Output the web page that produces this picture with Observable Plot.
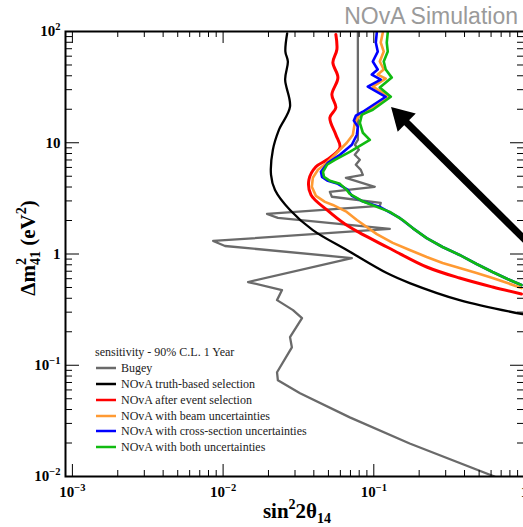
<!DOCTYPE html>
<html><head><meta charset="utf-8">
<script src="https://cdn.jsdelivr.net/npm/d3@7"></script>
<script src="https://cdn.jsdelivr.net/npm/@observablehq/plot@0.6"></script>
<style>
html,body{margin:0;padding:0;overflow:hidden;background:#fff;width:523px;height:527px;}
#chart{position:relative;width:523px;height:527px;overflow:hidden;}
#chart svg{display:block;max-width:none !important;width:545px !important;height:527px !important;}
</style></head><body><div id="chart"></div>
<script>
// ---- data (sin^2 2theta_14 , delta m^2_41 in eV^2) ----
const bugeySin = [0.0784,0.0784,0.0748,0.0796,0.0748,0.0808,0.0760,0.0820,0.0846,0.0653,0.1015,0.0511,0.0527,0.1112,0.1096,0.01956,0.0231,0.1277,0.00859,0.0103,0.0715,0.01464,0.0246,0.0228,0.0291,0.0334,0.0278,0.0286,0.0228,0.0231,0.0324,0.0693,0.173,0.632];
const bugeyDm  = [100,10.6,9.59,8.65,7.80,7.03,6.34,5.71,5.15,4.84,4.02,3.62,3.27,2.88,2.71,2.29,2.11,1.68,1.31,1.18,0.920,0.560,0.474,0.385,0.313,0.265,0.179,0.145,0.0865,0.0733,0.0560,0.0340,0.0198,0.0100];

const truthSin = [0.0266,0.0259,0.0269,0.0258,0.0278,0.0235,0.0214,0.0208,0.0221,0.0278,0.0394,0.0662,0.122,0.173,0.371,0.970];
const truthDm  = [96,66,53.7,37,21.1,13.1,8.65,5.15,3.77,2.49,1.64,1.087,0.674,0.548,0.385,0.288];

const selSin = [0.0560,0.0569,0.0535,0.0578,0.0527,0.0560,0.0511,0.0560,0.0596,0.0489,0.0413,0.0371,0.0383,0.0489,0.0643,0.0808,0.1336,0.2244,0.371,0.614,0.955];
const selDm  = [94,68.9,52.6,38.5,27.1,20.7,16.8,11.8,9.02,7.03,6.08,4.64,3.40,2.49,1.86,1.55,1.087,0.764,0.608,0.505,0.437];

const beamSin = [0.1148,0.1112,0.1164,0.1096,0.1164,0.1062,0.1200,0.0985,0.1277,0.0941,0.0784,0.0748,0.0726,0.0662,0.0569,0.0489,0.0426,0.0394,0.0388,0.0413,0.0474,0.0535,0.0662,0.0772,0.1047,0.1336,0.173,0.2244,0.286,0.371,0.481,0.614,0.771,0.955];
const beamDm  = [98,79.6,66.0,53.7,45.5,41.0,37.7,32.0,25.9,19.8,16.8,15.1,11.8,10.0,8.13,6.61,5.71,4.84,4.02,3.33,2.94,2.76,2.39,2.02,1.51,1.26,1.087,0.940,0.830,0.748,0.674,0.608,0.548,0.494];

const xsecSin = [0.1047,0.1031,0.1062,0.0985,0.1062,0.0970,0.1112,0.0912,0.1200,0.0846,0.0760,0.0737,0.0784,0.0772,0.0715,0.0596,0.0496,0.0446,0.0453,0.0496,0.0578,0.0673,0.0715,0.0833,0.1096,0.1486,0.1811,0.2244,0.286,0.371,0.481,0.614,0.771,0.955];
const xsecDm  = [98,79.6,66.0,53.7,45.5,41.0,37.0,32.0,25.9,19.0,17.5,15.8,13.9,11.8,9.59,7.80,6.61,5.48,4.94,4.55,4.27,3.77,3.33,3.00,2.65,2.11,1.71,1.39,1.156,0.980,0.813,0.689,0.596,0.526];

const bothSin = [0.1238,0.1219,0.1238,0.1164,0.1200,0.1316,0.1096,0.1297,0.0985,0.0833,0.0808,0.0846,0.0941,0.0693,0.0552,0.0489,0.0460,0.0467,0.0511,0.0596,0.0662,0.0693,0.0833,0.1277,0.1556,0.1811,0.2244,0.286,0.371,0.481,0.614,0.771,0.955];
const bothDm  = [98,79.6,66.0,53.7,45.5,38.5,31.3,25.9,19.8,17.9,15.1,12.3,10.6,8.29,7.03,6.34,5.48,4.94,4.55,4.27,3.77,3.47,3.00,2.39,2.02,1.71,1.39,1.156,0.980,0.813,0.689,0.596,0.526];

const xMajor = [0.001, 0.01, 0.1, 1];
const xLabels = ["10^\u22123", "10^\u22122", "10^\u22121", "1"];
const yMajor = [0.01, 0.1, 1, 10, 100];
const yLabels = ["10^\u22122", "10^\u22121", "1", "10", "10^2"];
const legendTitle = "sensitivity - 90% C.L. 1 Year";
const arrowFrom = [1.38, 0.879];   // tail (off the right edge)
const arrowTo = [0.1527, 16.9];    // arrow head centre

const series = [
  {name:"Bugey", sin:bugeySin, dm:bugeyDm, color:"#6a6a6a", w:2.3, curve:"linear"},
  {name:"NOvA truth-based selection", sin:truthSin, dm:truthDm, color:"#000000", w:2.3, curve:"catmull-rom"},
  {name:"NOvA after event selection", sin:selSin, dm:selDm, color:"#ff0000", w:3, curve:"catmull-rom"},
  {name:"NOvA with beam uncertainties", sin:beamSin, dm:beamDm, color:"#ff9a33", w:2.6, curve:"linear"},
  {name:"NOvA with cross-section uncertainties", sin:xsecSin, dm:xsecDm, color:"#0000ff", w:2.6, curve:"linear"},
  {name:"NOvA with both uncertainties", sin:bothSin, dm:bothDm, color:"#11bb11", w:2.6, curve:"linear"}
];

// ---- layout ----
const W = 545, H = 527, mL = 65, mR = 21, mT = 31, mB = 51;
const fw = W - mL - mR, fh = H - mT - mB;
const decX = [0.001, 0.01, 0.1], decY = [0.01, 0.1, 1, 10];
const mult = [2,3,4,5,6,7,8,9];
const xMinor = decX.flatMap(d => mult.map(k => k * d));
const yMinor = decY.flatMap(d => mult.map(k => k * d));
const serif = "Liberation Serif, Times New Roman, serif";

const lineMarks = series.map(s => Plot.line(s.sin.map((x, i) => ({x, y: s.dm[i]})),
  {x: "x", y: "y", stroke: s.color, strokeWidth: s.w, curve: s.curve, clip: true, strokeLinejoin: "round"}));

const plot = Plot.plot({
  width: W, height: H,
  marginLeft: mL, marginRight: mR, marginTop: mT, marginBottom: mB,
  x: {type: "log", domain: [0.0009, 1]},
  y: {type: "log", domain: [0.01, 100]},
  style: {background: "#fff", fontFamily: serif, maxWidth: "none"},
  marks: [
    ...lineMarks,
    Plot.link([{a: arrowFrom, b: arrowTo}], {x1: d => d.a[0], y1: d => d.a[1], x2: d => d.b[0], y2: d => d.b[1], stroke: "#000", strokeWidth: 7}),
    Plot.dot([arrowTo], {x: d => d[0], y: d => d[1], symbol: "triangle", r: 9.5, rotate: -45, fill: "#000", stroke: "none"}),
    // inward ticks on all four sides
    Plot.tickX(xMinor, {x: d => d, insetTop: fh - 6, stroke: "#000"}),
    Plot.tickX(xMajor, {x: d => d, insetTop: fh - 12, stroke: "#000"}),
    Plot.tickX(xMinor, {x: d => d, insetBottom: fh - 6, stroke: "#000"}),
    Plot.tickX(xMajor, {x: d => d, insetBottom: fh - 12, stroke: "#000"}),
    Plot.tickY(yMinor, {y: d => d, insetRight: fw - 7, stroke: "#000"}),
    Plot.tickY(yMajor, {y: d => d, insetRight: fw - 14, stroke: "#000"}),
    Plot.tickY(yMinor, {y: d => d, insetLeft: fw - 7, stroke: "#000"}),
    Plot.tickY(yMajor, {y: d => d, insetLeft: fw - 14, stroke: "#000"}),
    Plot.axisX({ticks: xMajor, tickFormat: d => xLabels[xMajor.indexOf(d)], tickSize: 0, tickPadding: 10, label: null,
      fontSize: 15, fontWeight: "bold", fontFamily: serif, fill: "#000"}),
    Plot.axisY({ticks: yMajor, tickFormat: d => yLabels[yMajor.indexOf(d)], tickSize: 0, tickPadding: 5, label: null,
      fontSize: 15, fontWeight: "bold", fontFamily: serif, fill: "#000"}),
    Plot.frame({stroke: "#000", strokeWidth: 2})
  ]
});

document.getElementById("chart").appendChild(plot);
const svg = d3.select(plot);
const NS = "http://www.w3.org/2000/svg";

// superscripts in tick labels
svg.selectAll("text").each(function () {
  const t = this.textContent;
  const m = t.match(/^(.*)\^(.*)$/);
  if (!m) return;
  this.textContent = "";
  const a = document.createElementNS(NS, "tspan"); a.textContent = m[1]; this.appendChild(a);
  const b = document.createElementNS(NS, "tspan"); b.textContent = m[2];
  b.setAttribute("dy", "-6"); b.setAttribute("font-size", "10.5"); this.appendChild(b);
});

// NOvA Simulation label
svg.append("text").attr("x", 518).attr("y", 23.5).attr("text-anchor", "end")
  .attr("font-family", "Liberation Sans, Arial, sans-serif").attr("font-size", 23).attr("fill", "#9a9a9a")
  .text("NOvA Simulation");

// x-axis title: sin^2 2θ_14
{
  const t = svg.append("text").attr("x", 297).attr("y", 518).attr("text-anchor", "middle")
    .attr("font-family", serif).attr("font-weight", "bold").attr("font-size", 21).attr("fill", "#000");
  t.append("tspan").text("sin");
  t.append("tspan").attr("font-size", 14).attr("dy", -9).text("2");
  t.append("tspan").attr("dy", 9).text("2\u03b8");
  t.append("tspan").attr("font-size", 14).attr("dy", 5).text("14");
}
// y-axis title: Δm^2_41 (eV^2)
{
  const t = svg.append("text").attr("transform", "translate(35,248) rotate(-90)").attr("text-anchor", "middle")
    .attr("font-family", serif).attr("font-weight", "bold").attr("font-size", 21).attr("fill", "#000");
  t.append("tspan").text("\u0394m");
  t.append("tspan").attr("font-size", 14).attr("dy", -9).text("2");
  t.append("tspan").attr("font-size", 14).attr("dx", -7).attr("dy", 14).text("41");
  t.append("tspan").attr("dy", -5).text(" (eV");
  t.append("tspan").attr("font-size", 14).attr("dy", -9).text("2");
  t.append("tspan").attr("dy", 9).text(")");
}

// legend
{
  const g = svg.append("g").attr("font-family", serif).attr("font-size", 12).attr("fill", "#222").attr("text-anchor", "start");
  g.append("text").attr("x", 95).attr("y", 356).text(legendTitle);
  const rows = [368, 384, 400, 416, 431, 447];
  series.forEach((s, i) => {
    g.append("line").attr("x1", 96).attr("x2", 116).attr("y1", rows[i]).attr("y2", rows[i])
      .attr("stroke", s.color).attr("stroke-width", 2.5);
    g.append("text").attr("x", 121).attr("y", rows[i] + 4).text(s.name);
  });
}
</script>
</body></html>
